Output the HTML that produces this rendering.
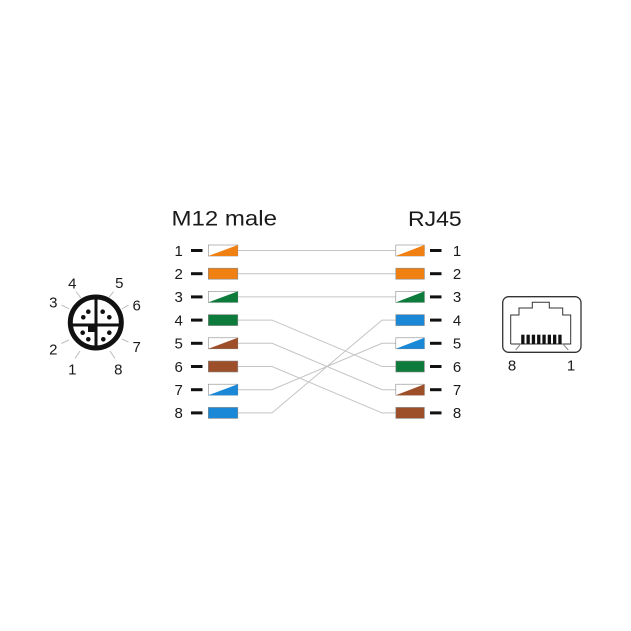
<!DOCTYPE html>
<html><head><meta charset="utf-8"><style>
html,body{margin:0;padding:0;background:#fff;}
svg{display:block;}
text{font-family:"Liberation Sans",Arial,sans-serif;fill:#1a1a1a;}
</style></head><body>
<svg width="631" height="631" viewBox="0 0 631 631" xmlns="http://www.w3.org/2000/svg">
<rect width="631" height="631" fill="#fff"/>

<!-- Titles -->
<text x="171.5" y="225.7" font-size="21" textLength="105.5" lengthAdjust="spacingAndGlyphs">M12 male</text>
<text x="408" y="226" font-size="21" textLength="53.7" lengthAdjust="spacingAndGlyphs">RJ45</text>

<!-- Wires -->
<g stroke="#c4c4c4" stroke-width="1" fill="none">
<polyline points="238,250.5 396,250.5"/>
<polyline points="238,273.7 396,273.7"/>
<polyline points="238,296.9 396,296.9"/>
<polyline points="238,320.1 272,320.1 382,366.5 396,366.5"/>
<polyline points="238,343.3 272,343.3 382,389.7 396,389.7"/>
<polyline points="238,366.5 272,366.5 382,412.9 396,412.9"/>
<polyline points="238,389.7 272,389.7 382,343.3 396,343.3"/>
<polyline points="238,412.9 272,412.9 382,320.1 396,320.1"/>
</g>

<!-- Left side -->
<g font-size="15" text-anchor="middle">
<text x="178.7" y="255.8">1</text>
<text x="178.7" y="279">2</text>
<text x="178.7" y="302.2">3</text>
<text x="178.7" y="325.4">4</text>
<text x="178.7" y="348.6">5</text>
<text x="178.7" y="371.8">6</text>
<text x="178.7" y="395">7</text>
<text x="178.7" y="418.2">8</text>
<text x="457" y="255.8">1</text>
<text x="457" y="279">2</text>
<text x="457" y="302.2">3</text>
<text x="457" y="325.4">4</text>
<text x="457" y="348.6">5</text>
<text x="457" y="371.8">6</text>
<text x="457" y="395">7</text>
<text x="457" y="418.2">8</text>
</g>
<g fill="#111">
<rect x="191" y="249" width="11.5" height="3"/>
<rect x="191" y="272.2" width="11.5" height="3"/>
<rect x="191" y="295.4" width="11.5" height="3"/>
<rect x="191" y="318.6" width="11.5" height="3"/>
<rect x="191" y="341.8" width="11.5" height="3"/>
<rect x="191" y="365" width="11.5" height="3"/>
<rect x="191" y="388.2" width="11.5" height="3"/>
<rect x="191" y="411.4" width="11.5" height="3"/>
<rect x="430" y="249" width="11.5" height="3"/>
<rect x="430" y="272.2" width="11.5" height="3"/>
<rect x="430" y="295.4" width="11.5" height="3"/>
<rect x="430" y="318.6" width="11.5" height="3"/>
<rect x="430" y="341.8" width="11.5" height="3"/>
<rect x="430" y="365" width="11.5" height="3"/>
<rect x="430" y="388.2" width="11.5" height="3"/>
<rect x="430" y="411.4" width="11.5" height="3"/>
</g>

<!-- Left boxes -->
<g stroke="#8a8a8a" stroke-width="0.6">
<rect x="208.3" y="245" width="29.5" height="11" fill="#fff"/>
<polygon points="208.3,256 237.8,245 237.8,256" fill="#f08012" stroke="none"/>
<rect x="208.3" y="268.2" width="29.5" height="11" fill="#f08012"/>
<rect x="208.3" y="291.4" width="29.5" height="11" fill="#fff"/>
<polygon points="208.3,302.4 237.8,291.4 237.8,302.4" fill="#0d7b3b" stroke="none"/>
<rect x="208.3" y="314.6" width="29.5" height="11" fill="#0d7b3b"/>
<rect x="208.3" y="337.8" width="29.5" height="11" fill="#fff"/>
<polygon points="208.3,348.8 237.8,337.8 237.8,348.8" fill="#9d4f2a" stroke="none"/>
<rect x="208.3" y="361" width="29.5" height="11" fill="#9d4f2a"/>
<rect x="208.3" y="384.2" width="29.5" height="11" fill="#fff"/>
<polygon points="208.3,395.2 237.8,384.2 237.8,395.2" fill="#1a88d6" stroke="none"/>
<rect x="208.3" y="407.4" width="29.5" height="11" fill="#1a88d6"/>
</g>

<!-- Right boxes -->
<g stroke="#8a8a8a" stroke-width="0.6">
<rect x="395.8" y="245" width="28.6" height="11" fill="#fff"/>
<polygon points="395.8,256 424.4,245 424.4,256" fill="#f08012" stroke="none"/>
<rect x="395.8" y="268.2" width="28.6" height="11" fill="#f08012"/>
<rect x="395.8" y="291.4" width="28.6" height="11" fill="#fff"/>
<polygon points="395.8,302.4 424.4,291.4 424.4,302.4" fill="#0d7b3b" stroke="none"/>
<rect x="395.8" y="314.6" width="28.6" height="11" fill="#1a88d6"/>
<rect x="395.8" y="337.8" width="28.6" height="11" fill="#fff"/>
<polygon points="395.8,348.8 424.4,337.8 424.4,348.8" fill="#1a88d6" stroke="none"/>
<rect x="395.8" y="361" width="28.6" height="11" fill="#0d7b3b"/>
<rect x="395.8" y="384.2" width="28.6" height="11" fill="#fff"/>
<polygon points="395.8,395.2 424.4,384.2 424.4,395.2" fill="#9d4f2a" stroke="none"/>
<rect x="395.8" y="407.4" width="28.6" height="11" fill="#9d4f2a"/>
</g>

<!-- M12 connector -->
<g stroke="#bbbbbb" stroke-width="1">
<line x1="76" y1="291.5" x2="81" y2="298"/>
<line x1="113.5" y1="291.5" x2="109" y2="297.5"/>
<line x1="61.5" y1="305" x2="69" y2="308.8"/>
<line x1="128.5" y1="305" x2="122" y2="309"/>
<line x1="61.5" y1="343.5" x2="69" y2="339.8"/>
<line x1="128.5" y1="342" x2="122" y2="339"/>
<line x1="75" y1="358.5" x2="80" y2="351"/>
<line x1="115" y1="358.5" x2="110" y2="351"/>
</g>
<circle cx="95.8" cy="322.5" r="25.5" fill="#fff" stroke="#111" stroke-width="5"/>
<rect x="94.5" y="297" width="3" height="51" fill="#111"/>
<rect x="70" y="323.5" width="52" height="3" fill="#111"/>
<rect x="88" y="325" width="7" height="7" fill="#111"/>
<g fill="#111">
<circle cx="88.3" cy="311.7" r="2.3"/>
<circle cx="83.3" cy="317.3" r="2.3"/>
<circle cx="102.7" cy="311.7" r="2.3"/>
<circle cx="109.3" cy="317.3" r="2.3"/>
<circle cx="82.7" cy="332.7" r="2.3"/>
<circle cx="88.3" cy="339.3" r="2.3"/>
<circle cx="109.3" cy="332.7" r="2.3"/>
<circle cx="103.3" cy="339.3" r="2.3"/>
</g>
<g font-size="15" text-anchor="middle">
<text x="72.3" y="288.5">4</text>
<text x="119.3" y="288">5</text>
<text x="53.3" y="307.5">3</text>
<text x="136.7" y="310.5">6</text>
<text x="53.3" y="354.5">2</text>
<text x="136.7" y="352">7</text>
<text x="72.3" y="374.5">1</text>
<text x="118.3" y="374.5">8</text>
</g>

<!-- RJ45 jack -->
<rect x="502.7" y="296.7" width="78.3" height="55.6" rx="6" ry="6" fill="#fff" stroke="#333" stroke-width="1.3"/>
<polyline points="510.7,344 510.7,315 519,315 519,308 532.3,308 532.3,302.3 549.3,302.3 549.3,308 562.7,308 562.7,315 570.7,315 570.7,344 510.7,344" fill="none" stroke="#333" stroke-width="1"/>
<g fill="#111">
<rect x="521.2" y="334.7" width="3.3" height="9.3"/>
<rect x="526.5" y="334.7" width="3.3" height="9.3"/>
<rect x="531.8" y="334.7" width="3.3" height="9.3"/>
<rect x="537.1" y="334.7" width="3.3" height="9.3"/>
<rect x="542.4" y="334.7" width="3.3" height="9.3"/>
<rect x="547.7" y="334.7" width="3.3" height="9.3"/>
<rect x="553" y="334.7" width="3.3" height="9.3"/>
<rect x="558.3" y="334.7" width="3.3" height="9.3"/>
</g>
<g stroke="#888" stroke-width="1">
<line x1="515.7" y1="350" x2="521" y2="343.5"/>
<line x1="568.3" y1="350" x2="562.5" y2="343.5"/>
</g>
<g font-size="15" text-anchor="middle">
<text x="512" y="370.5">8</text>
<text x="571" y="370.5">1</text>
</g>
</svg>
</body></html>
